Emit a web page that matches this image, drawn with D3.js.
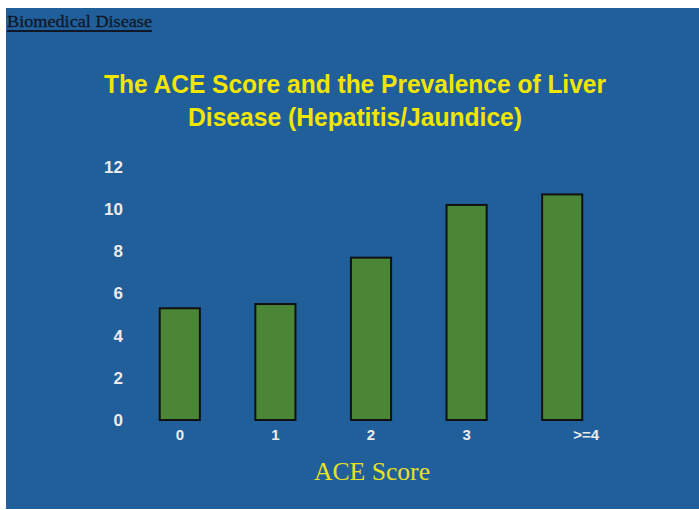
<!DOCTYPE html>
<html><head><meta charset="utf-8">
<script src="https://cdn.jsdelivr.net/npm/d3@7"></script>
<style>html,body{margin:0;padding:0;background:#fff;}svg{display:block;}</style>
</head><body>
<script>
const categories = ["0","1","2","3",">=4"];
const values = [5.3, 5.5, 7.7, 10.2, 10.7];
const yTicks = [0,2,4,6,8,10,12];
const titleLines = ["The ACE Score and the Prevalence of Liver","Disease (Hepatitis/Jaundice)"];
const xTitle = "ACE Score";
const corner = "Biomedical Disease";

const W = 699, H = 510;
const svg = d3.select("body").append("svg").attr("width", W).attr("height", H);
svg.append("rect").attr("x",6).attr("y",8).attr("width",W-6).attr("height",501).attr("fill","#215f9b");

const x = d3.scaleBand().domain(categories).range([132, 610]).paddingInner(0.58).paddingOuter(0.29);
const y = d3.scaleLinear().domain([0,12]).range([420, 167]);

// corner label
svg.append("text").attr("x",7).attr("y",27).attr("font-family","Liberation Serif, Times New Roman, serif")
  .attr("font-size",17).attr("fill","#101828").attr("stroke","#101828").attr("stroke-width",0.3)
  .attr("textLength",145).attr("lengthAdjust","spacingAndGlyphs").text(corner);
svg.append("rect").attr("x",7).attr("y",30).attr("width",145).attr("height",2).attr("fill","#101828");

// title
const tl = [[93,502],[126,334]];
titleLines.forEach((t,i)=>{
  svg.append("text").attr("x",355).attr("y",tl[i][0]).attr("text-anchor","middle")
    .attr("font-family","Liberation Sans, Arial, sans-serif").attr("font-weight","bold").attr("font-size",25)
    .attr("fill","#f2e600").attr("textLength",tl[i][1]).attr("lengthAdjust","spacingAndGlyphs").text(t);
});

// y axis labels
const yAxis = d3.axisLeft(y).tickValues(yTicks).tickSize(0).tickPadding(0);
const gy = svg.append("g").attr("transform","translate(123,0)").call(yAxis);
gy.select(".domain").remove();
gy.selectAll("text").attr("font-family","Liberation Sans, Arial, sans-serif").attr("font-weight","bold")
  .attr("font-size",17).attr("fill","#ececec");

// x axis labels
const xAxis = d3.axisBottom(x).tickSize(0).tickPadding(0);
const gx = svg.append("g").attr("transform","translate(0,429)").call(xAxis);
gx.select(".domain").remove();
gx.selectAll("text").attr("font-family","Liberation Sans, Arial, sans-serif").attr("font-weight","bold")
  .attr("font-size",15).attr("fill","#ececec")
  .attr("dx", d => d === ">=4" ? 24 : 0);

// bars
svg.append("g").selectAll("rect").data(values).join("rect")
  .attr("x",(d,i)=>x(categories[i])).attr("width",x.bandwidth())
  .attr("y",d=>y(d)).attr("height",d=>y(0)-y(d))
  .attr("fill","#4b8636").attr("stroke","#111").attr("stroke-width",2);

// x title
svg.append("text").attr("x",372).attr("y",480).attr("text-anchor","middle")
  .attr("font-family","Liberation Serif, Times New Roman, serif").attr("font-size",25)
  .attr("fill","#e9e21a").attr("textLength",116).attr("lengthAdjust","spacingAndGlyphs").text(xTitle);
</script>
</body></html>
